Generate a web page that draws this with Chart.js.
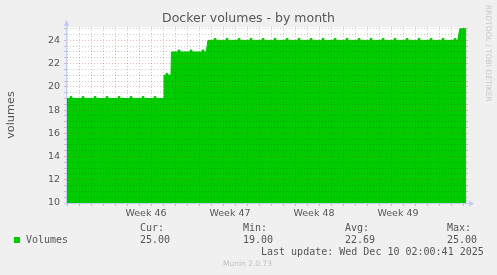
<!DOCTYPE html>
<html><head><meta charset="utf-8">
<script src="https://cdn.jsdelivr.net/npm/chart.js@4/dist/chart.umd.min.js"></script>
<style>
html,body{margin:0;padding:0;background:#f0f0f0;}
#wrap{position:relative;width:497px;height:275px;overflow:hidden;background:#f0f0f0;}
canvas{position:absolute;left:0;top:0;}
.m{position:absolute;white-space:nowrap;line-height:12px;color:#555;font-family:'DejaVu Sans Mono',monospace;font-size:10px;}
</style></head>
<body><div id="wrap"><canvas id="c" width="497" height="275"></canvas>
<div id="title" style="position:absolute;left:0;width:497px;text-align:center;top:10.3px;line-height:15px;font-family:'DejaVu Sans';font-size:12.5px;color:#555;">Docker volumes - by month</div>
<div id="wm" style="position:absolute;left:483.5px;top:5px;writing-mode:vertical-rl;line-height:9px;font-family:'DejaVu Sans';font-size:7.5px;color:#c8c8c8;white-space:nowrap;">RRDTOOL / TOBI OETIKER</div>
<div id="legend"></div>
<div style="position:absolute;left:223px;top:259.4px;line-height:9px;font-family:'DejaVu Sans';font-size:7.5px;color:#c0c0c0;white-space:nowrap;">Munin 2.0.73</div>
</div>
<script>
// ---- data (x in days since Mon Nov 10, week 46 start) ----
const levelDays   = [-3.083, 4.95, 5.0, 5.58, 5.62, 8.52, 8.66, 29.48, 29.65, 30.167];
const levelValues = [19, 19, 21, 21, 23, 23, 24, 24, 25, 25];
const bumpDays  = [-2.75,-1.75,-0.75,0.25,1.25,2.25,3.25,4.25,5.25,6.25,7.25,8.25,9.25,10.25,11.25,12.25,13.25,14.25,15.25,16.25,17.25,18.25,19.25,20.25,21.25,22.25,23.25,24.25,25.25,26.25,27.25,28.25,29.25];
const bumpPeaks = [19.17,19.17,19.17,19.17,19.17,19.17,19.17,19.17,21.17,23.17,23.17,23.17,24.17,24.17,24.17,24.17,24.17,24.17,24.17,24.17,24.17,24.17,24.17,24.17,24.17,24.17,24.17,24.17,24.17,24.17,24.17,24.17,24.17];
const weekCenters = [3.5, 10.5, 17.5, 24.5];
const weekLabels  = ['Week 46', 'Week 47', 'Week 48', 'Week 49'];
const yLabelValues = [10, 12, 14, 16, 18, 20, 22, 24];
const seriesName = 'Volumes';
const statLabels = ['Cur:', 'Min:', 'Avg:', 'Max:'];
const statValues = ['25.00', '19.00', '22.69', '25.00'];
const lastUpdate = 'Last update: Wed Dec 10 02:00:41 2025';

// ---- build the dataset ----
function levelAt(d){ let v = levelValues[0]; for(let i=0;i<levelDays.length;i++){ if(levelDays[i] <= d) v = levelValues[i]; } return v; }
const pts = levelDays.map((d,i)=>({x:d, y:levelValues[i]}));
bumpDays.forEach((d,i)=>{
  const b = levelAt(d);
  pts.push({x:d-0.085, y:b},{x:d-0.07, y:bumpPeaks[i]},{x:d+0.07, y:bumpPeaks[i]},{x:d+0.085, y:b});
});
pts.sort((a,b)=>a.x-b.x);

// ---- legend html ----
const lg = document.getElementById('legend');
const statX = [140, 243, 345, 447];
let h = '<div style="position:absolute;left:14px;top:237px;width:6px;height:6px;background:#00cc00"></div>';
h += '<div class="m" style="left:26px;top:233.6px">'+seriesName+'</div>';
statLabels.forEach((s,i)=>{
  h += '<div class="m" style="left:'+statX[i]+'px;top:221.6px">'+s+'</div>';
  h += '<div class="m" style="left:'+statX[i]+'px;top:233.6px">'+statValues[i]+'</div>';
});
h += '<div class="m" style="left:261px;top:245.6px">'+lastUpdate+'</div>';
lg.innerHTML = h;

// ---- ticks ----
const xGrid = []; for(let d=-3; d<=30; d++) xGrid.push(d);
const xTicks = xGrid.concat(weekCenters).sort((a,b)=>a-b);
const yGrid = []; for(let v=10; v<=25; v+=0.5) yGrid.push(v);

const RED = 'rgba(255,0,0,0.28)';
const GRAY = 'rgba(0,0,0,0.2)';
const xColor = c => { const v = c.tick ? c.tick.value : 0; if(!Number.isInteger(v)) return 'rgba(0,0,0,0)'; return (v % 7 === 0) ? RED : GRAY; };
const yColor = c => { const v = c.tick ? c.tick.value : 0; return (v % 2 === 0) ? RED : GRAY; };

const bgPlugin = {
  id:'bg',
  beforeDraw(chart){ const a = chart.chartArea, c = chart.ctx; c.save(); c.fillStyle='#ffffff'; c.fillRect(a.left,a.top,a.right-a.left,a.bottom-a.top); c.restore(); }
};
const axisPlugin = {
  id:'axes',
  afterDraw(chart){
    const a = chart.chartArea, c = chart.ctx;
    c.save();
    c.strokeStyle = '#c4ccf4'; c.fillStyle = '#c4ccf4'; c.lineWidth = 1;
    c.beginPath(); c.moveTo(a.left-0.5, a.bottom+2); c.lineTo(a.left-0.5, a.top-2); c.stroke();
    c.beginPath(); c.moveTo(a.left-3, a.bottom+0.5); c.lineTo(a.right+4, a.bottom+0.5); c.stroke();
    c.beginPath(); c.moveTo(a.left-0.5, a.top-7); c.lineTo(a.left-3.5, a.top-1); c.lineTo(a.left+2.5, a.top-1); c.closePath(); c.fill();
    c.beginPath(); c.moveTo(a.right+8, a.bottom+0.5); c.lineTo(a.right+3, a.bottom-2.5); c.lineTo(a.right+3, a.bottom+3.5); c.closePath(); c.fill();
    c.restore();
  }
};

new Chart(document.getElementById('c'), {
  type:'line',
  data:{ datasets:[{ label:seriesName, data:pts, parsing:false, borderColor:'#00cc00', backgroundColor:'#00cc00', borderWidth:1, pointRadius:0, fill:'start', tension:0 }]},
  options:{
    responsive:false, animation:false, devicePixelRatio:1,
    layout:{padding:{top:27,left:0,right:27,bottom:52}},
    plugins:{legend:{display:false}, title:{display:false}, tooltip:{enabled:false}},
    scales:{
      x:{ type:'linear', min:-3.083, max:30.167,
          afterBuildTicks: s => { s.ticks = xTicks.map(v=>({value:v})); },
          afterFit: s => { s.height = 20; },
          ticks:{ autoSkip:false, maxRotation:0, padding:2, color:'#555', font:{family:'DejaVu Sans', size:9.5},
                  callback: v => { const i = weekCenters.indexOf(v); return i>=0 ? weekLabels[i] : ''; } },
          grid:{ z:1, color:xColor, tickColor:xColor, tickLength:3, lineWidth:1, borderDash:[1,2] },
          border:{ display:false, dash:[1,2] } },
      y:{ type:'linear', position:'left', min:10, max:25.15,
          afterBuildTicks: s => { s.ticks = yGrid.map(v=>({value:v})); },
          afterFit: s => { s.width = 67; },
          ticks:{ autoSkip:false, padding:4, color:'#555', font:{family:'DejaVu Sans', size:9.5},
                  callback: v => yLabelValues.indexOf(v) >= 0 ? String(v) : '' },
          title:{ display:true, text:'volumes', color:'#555', font:{family:'DejaVu Sans', size:11.3} },
          grid:{ z:1, color:yColor, tickColor:yColor, tickLength:3, lineWidth:1, borderDash:[1,2] },
          border:{ display:false, dash:[1,2] } },
      y2:{ type:'linear', position:'right', min:10, max:25.15,
          afterBuildTicks: s => { s.ticks = yGrid.map(v=>({value:v})); },
          afterFit: s => { s.width = 4; },
          ticks:{ autoSkip:false, padding:0, callback: () => '' },
          grid:{ z:1, drawOnChartArea:false, tickColor:yColor, tickLength:2 },
          border:{ display:false } }
    }
  },
  plugins:[bgPlugin, axisPlugin]
});
</script>
</body></html>
